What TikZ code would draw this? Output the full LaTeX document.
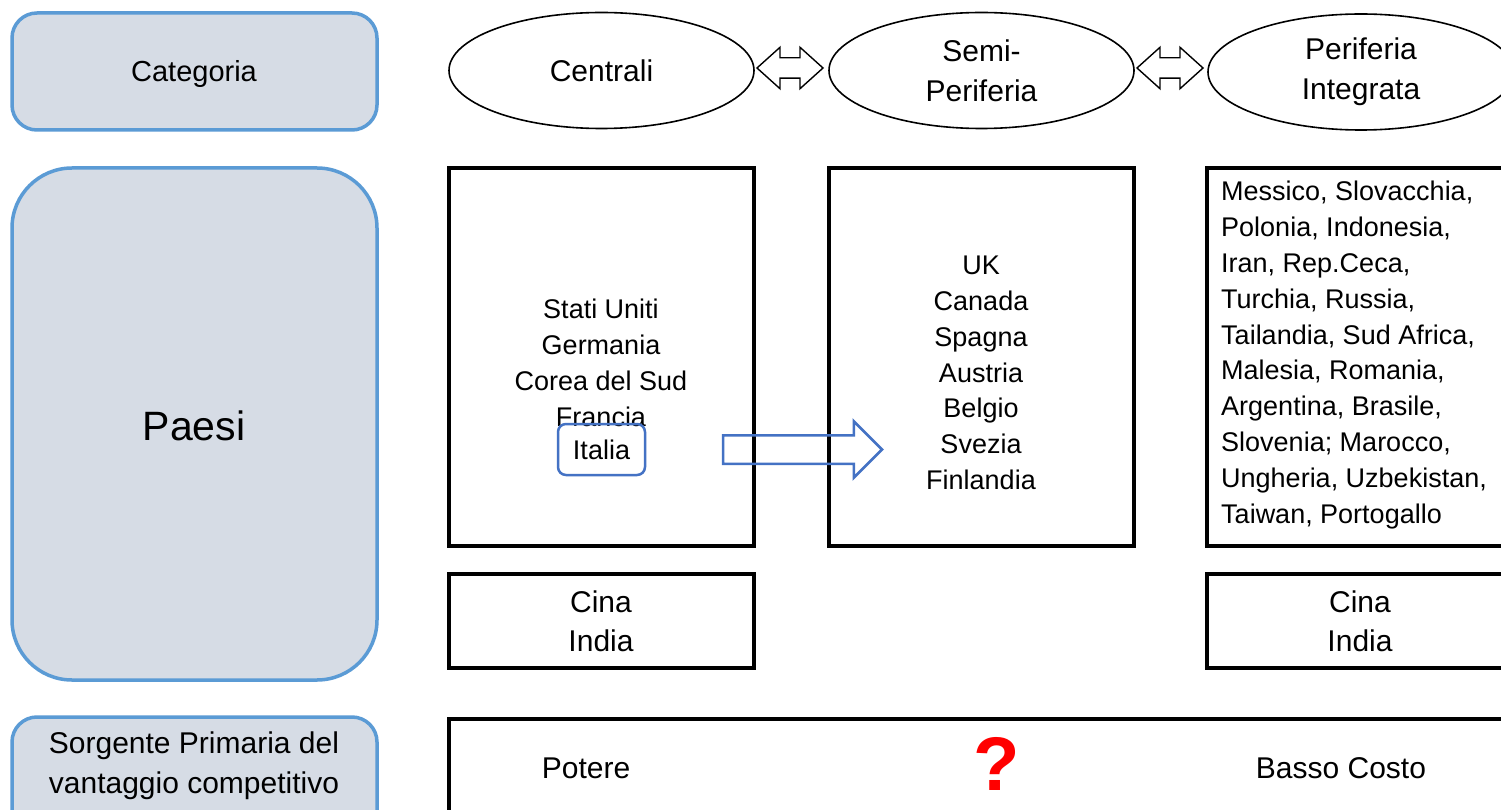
\documentclass[tikz,border=0pt]{standalone}
\usepackage{fontspec}
\setmainfont{Liberation Sans}
\usetikzlibrary{shapes.geometric,shapes.arrows}
\definecolor{lblue}{HTML}{5B9BD5}
\definecolor{lfill}{HTML}{D6DCE5}
\definecolor{dblue}{HTML}{4472C4}
\definecolor{qred}{HTML}{FF0000}
\tikzset{
  catbox/.style={draw=lblue, fill=lfill, line width=3.5pt, inner sep=0pt},
  ell/.style={ellipse, draw, line width=1.6pt, minimum width=305pt, minimum height=116pt, inner sep=0pt,
    align=center, font=\fontsize{30}{40}\selectfont},
  blkbox/.style={draw, line width=3.5pt, inner sep=0pt},
  dar/.style={double arrow, draw, line width=1.4pt, minimum height=66pt, minimum width=40pt,
    inner xsep=0pt, inner ysep=9.5pt, double arrow head extend=10.5pt, double arrow tip angle=84},
  lst/.style={align=center, inner sep=0pt, font=\fontsize{27}{35.8}\selectfont},
  big/.style={align=center, inner sep=0pt, font=\fontsize{30}{39}\selectfont},
}
\begin{document}
\begin{tikzpicture}[x=1pt,y=-1pt]
\useasboundingbox (0,0) rectangle (1501,810);
\clip (0,0) rectangle (1501,810);
\fill[white] (0,0) rectangle (1501,810);

% left category column
\node[catbox, rounded corners=25pt, minimum width=365pt, minimum height=117pt] (cat) at (194.5,71.5) {};
\node[font=\fontsize{29}{36}\selectfont] (cattxt) at (194,74) {Categoria};
\node[catbox, rounded corners=60pt, minimum width=365pt, minimum height=512pt] (pae) at (194.5,424) {};
\node[font=\fontsize{41}{48}\selectfont] (paetxt) at (194,426) {Paesi};
\node[catbox, rounded corners=25pt, minimum width=365pt, minimum height=143pt] (sor) at (194.5,788.5) {};
\node[big, font=\fontsize{30}{40}\selectfont] (sortxt) at (194,766) {Sorgente Primaria del\\vantaggio competitivo};

% ellipses
\node[ell] (cen) at (601.5,70.5) {Centrali};
\node[ell] (semi) at (981.5,70.5) {Semi-\\Periferia};
\node[ell, minimum width=306pt] (peri) at (1361,72) {Periferia\\Integrata};
\node[dar] (d1) at (790,68) {};
\node[dar] (d2) at (1170,68) {};

% country boxes
\node[blkbox, minimum width=305pt, minimum height=378pt] (bc) at (601.5,357) {};
\node[blkbox, minimum width=305pt, minimum height=378pt] (bs) at (981.5,357) {};
\node[blkbox, minimum width=313pt, minimum height=378pt] (bp) at (1363.5,357) {};

\node[lst] (lc) at (601,363) {Stati Uniti\\Germania\\Corea del Sud\\Francia};
\node[draw=dblue, line width=2.5pt, rounded corners=8pt, minimum width=87pt, minimum height=51pt,
  inner sep=0pt, font=\fontsize{27}{35.8}\selectfont] (ita) at (601.5,449.5) {Italia};
\node[lst] (ls) at (981,373) {UK\\Canada\\Spagna\\Austria\\Belgio\\Svezia\\Finlandia};
\node[lst, align=left, anchor=west] (lp) at (1221,355) {Messico, Slovacchia,\\Polonia, Indonesia,\\Iran, Rep.Ceca,\\Turchia, Russia,\\Tailandia, Sud Africa,\\Malesia, Romania,\\Argentina, Brasile,\\Slovenia; Marocco,\\Ungheria, Uzbekistan,\\Taiwan, Portogallo};

\node[single arrow, draw=dblue, line width=2.5pt, minimum height=159pt, minimum width=54pt,
  inner xsep=0pt, inner ysep=13pt, single arrow head extend=14pt, single arrow tip angle=90,
  outer sep=0pt, anchor=tail] (sa) at (723,449.5) {};

% Cina India
\node[blkbox, minimum width=305pt, minimum height=94pt] (ci1) at (601.5,621) {};
\node[big] (ci1t) at (601,621.5) {Cina\\India};
\node[blkbox, minimum width=313pt, minimum height=94pt] (ci2) at (1363.5,621) {};
\node[big] (ci2t) at (1360,621.5) {Cina\\India};

% bottom
\node[blkbox, outer sep=0pt, anchor=north west, minimum width=1100pt, minimum height=200pt] (bot) at (449,719) {};
\node[font=\fontsize{30}{36}\selectfont] (pot) at (586,768) {Potere};
\node[font=\fontsize{76}{80}\selectfont\bfseries, text=qred] (q) at (997,764) {?};
\node[font=\fontsize{30}{36}\selectfont] (bas) at (1341,768) {Basso Costo};
\end{tikzpicture}
\end{document}
